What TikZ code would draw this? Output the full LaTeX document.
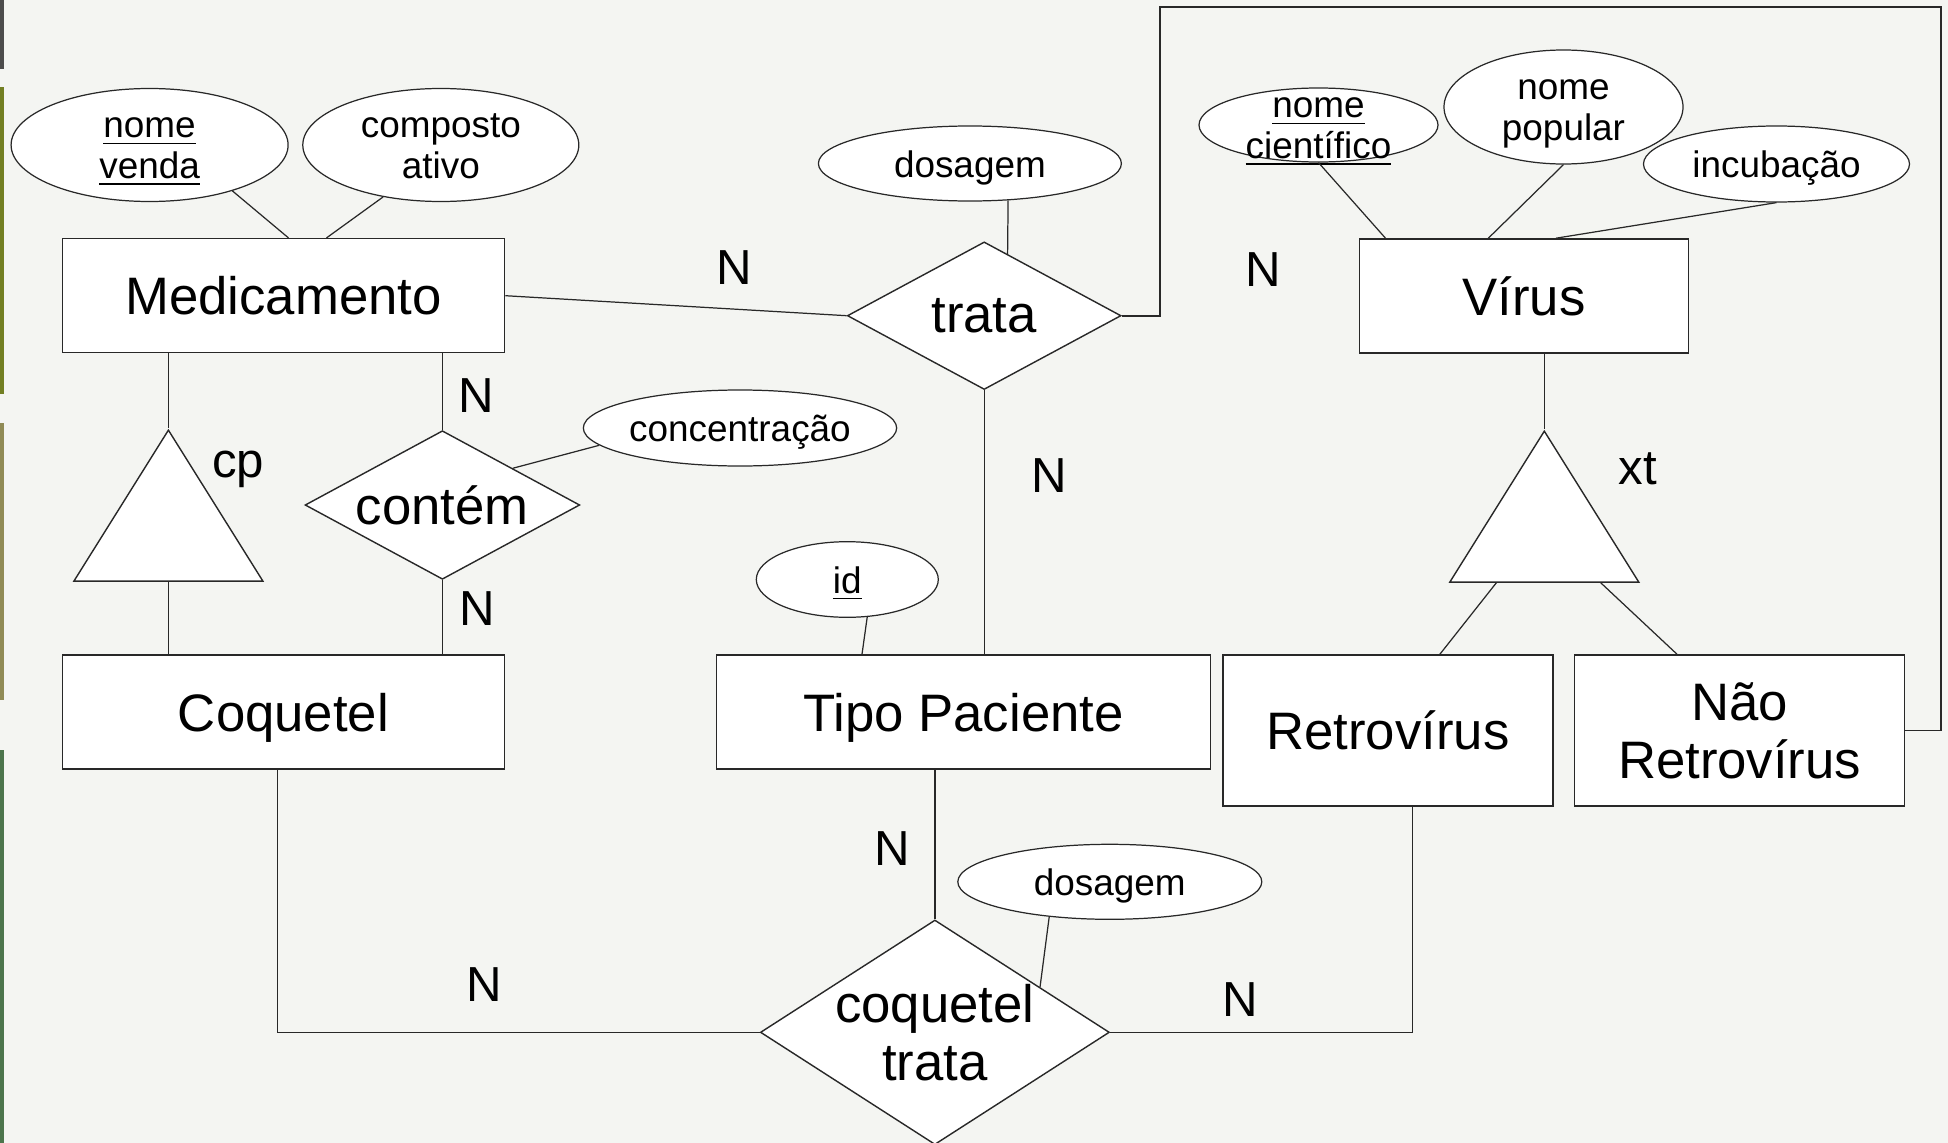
\documentclass[tikz,border=0pt]{standalone}
\usepackage{fontspec}
\setmainfont{Liberation Sans}
\usetikzlibrary{shapes.geometric,positioning,calc}

\definecolor{fundo}{RGB}{244,245,242}
\definecolor{traco}{RGB}{40,40,40}
\tikzset{
  ent/.style={rectangle, draw=traco, line width=0.45pt, fill=white, inner sep=0pt, text depth=0pt, align=center, font=\fontsize{15}{16.5}\selectfont},
  rel/.style={diamond, aspect=1.85, draw=traco, line width=0.4pt, fill=white, inner sep=0pt, inner xsep=-2mm, align=center, font=\fontsize{15}{16.5}\selectfont},
  attr/.style={ellipse, draw=traco, line width=0.35pt, fill=white, inner sep=0pt, inner ysep=-1.5mm, text height=7.7pt, text depth=0pt, align=center, font=\fontsize{10.5}{11.6}\selectfont},
  attr two/.style={attr, text height=19.2pt},
  isa/.style={isosceles triangle, isosceles triangle stretches, shape border rotate=90, anchor=apex, draw=traco, line width=0.4pt, fill=white, inner sep=0pt, minimum width=1.89cm, minimum height=1.51cm},
  card/.style={font=\fontsize{14}{16}\selectfont},
  link/.style={draw=traco, line width=0.35pt}
}

\begin{document}
\begin{tikzpicture}[on grid]
\useasboundingbox (0,0) rectangle (19.48,-11.43);
\fill[fundo] (0,0) rectangle (19.48,-11.43);
\fill[black!70] (0,0) rectangle (0.043,-0.69);
\fill[olive!75!green!80!black] (0,-0.87) rectangle (0.043,-3.94);
\fill[gray!60!olive] (0,-4.23) rectangle (0.043,-7.0);
\fill[black!60!green!40!gray] (0,-7.5) rectangle (0.043,-11.43);

\node[ent, minimum width=4.42cm, minimum height=1.14cm] (e_med) at (2.835,-2.957) {Medicamento};
\node[ent, minimum width=4.42cm, minimum height=1.14cm] (e_coq) [below=4.163cm of e_med] {Coquetel};
\node[ent, minimum width=4.94cm, minimum height=1.14cm] (e_tipo) [right=6.80cm of e_coq] {Tipo Paciente};
\node[ent, minimum width=3.29cm, minimum height=1.14cm] (e_virus) at (15.24,-2.96) {Vírus};
\node[ent, minimum width=3.30cm, minimum height=1.51cm] (e_retro) at (13.879,-7.305) {Retrovírus};
\node[ent, minimum width=3.30cm, minimum height=1.51cm] (e_nret) [right=3.517cm of e_retro] {Não\\Retrovírus};

\node[rel, minimum width=2.737cm, minimum height=1.476cm] (r_trata) at (9.842,-3.157) {trata};
\node[rel, minimum width=2.747cm, minimum height=1.486cm] (r_contem) at (4.424,-5.05) {contém};
\node[rel, aspect=1.55, minimum width=3.49cm, minimum height=2.246cm] (r_ctrata) at (9.349,-10.323) {coquetel\\trata};

\node[isa] (t_cp) at (1.684,-4.283) {};
\node[isa] (t_xt) at (15.443,-4.293) {};

\node[attr two, minimum width=2.77cm, minimum height=1.13cm] (a_nv) at (1.496,-1.45) {\underline{nome}\\\underline{venda}};
\node[attr two, minimum width=2.76cm, minimum height=1.13cm] (a_ca) [right=2.912cm of a_nv] {composto\\ativo};
\node[attr, minimum width=3.03cm, minimum height=0.75cm] (a_dos1) at (9.699,-1.635) {dosagem};
\node[attr two, minimum width=2.39cm, minimum height=0.74cm] (a_ncient) at (13.185,-1.25) {\underline{nome}\\\underline{científico}};
\node[attr two, minimum width=2.39cm, minimum height=1.14cm] (a_npop) at (15.635,-1.07) {nome\\popular};
\node[attr, minimum width=2.66cm, minimum height=0.76cm] (a_incub) at (17.765,-1.64) {incubação};
\node[attr, minimum width=3.03cm, minimum height=0.76cm] (a_conc) at (7.40,-4.28) {concentração};
\node[attr, minimum width=1.82cm, minimum height=0.756cm] (a_id) at (8.473,-5.795) {\underline{id}};
\node[attr, minimum width=3.04cm, minimum height=0.75cm] (a_dos2) at (11.098,-8.818) {dosagem};

\node[card] (n_1) at (7.342,-2.671) {N};
\node[card] (n_2) at (12.628,-2.696) {N};
\node[card] (n_3) at (4.766,-3.96) {N};
\node[card] (n_4) at (4.77,-6.083) {N};
\node[card] (n_5) at (10.49,-4.758) {N};
\node[card] (n_6) at (8.92,-8.485) {N};
\node[card] (n_7) at (4.84,-9.842) {N};
\node[card] (n_8) at (12.404,-9.992) {N};
\node[card] (l_cp) at (2.38,-4.69) {cp};
\node[card] (l_xt) at (16.38,-4.69) {xt};

\coordinate (canto) at (19.41,-0.073);

\draw[link] (a_nv.-29) -- ([xshift=0.05cm]e_med.north);
\draw[link] (a_ca.-138) -- ([xshift=0.43cm]e_med.north);
\draw[link] (e_med.east) -- (r_trata.west);
\draw[link] (a_dos1.-44) -- ($(r_trata.north)!0.17!(r_trata.east)$);
\draw[link, line width=0.55pt] (r_trata.east) -- ++(0.38,0) |- (canto) |- (e_nret.east);
\draw[link] (r_trata.south) -- (r_trata.south |- e_tipo.north);
\draw[link] (t_cp.apex |- e_med.south) -- (t_cp.apex);
\draw[link] (t_cp.apex |- t_cp.left corner) -- (t_cp.apex |- e_coq.north);
\draw[link] (r_contem.north |- e_med.south) -- (r_contem.north);
\draw[link] (r_contem.south) -- (r_contem.south |- e_coq.north);
\draw[link] (a_conc.-173) -- ($(r_contem.north)!0.51!(r_contem.east)$);
\draw[link] (a_id.-62) -- ([xshift=-1.015cm]e_tipo.north);
\draw[link] (r_ctrata.north |- e_tipo.south) -- (r_ctrata.north);
\draw[link] ([xshift=-0.06cm]e_coq.south) |- (r_ctrata.west);
\draw[link] (r_ctrata.east) -| ([xshift=0.245cm]e_retro.south);
\draw[link] (a_dos2.-150) -- ($(r_ctrata.north)!0.6!(r_ctrata.east)$);
\draw[link] (t_xt.apex |- e_virus.south) -- (t_xt.apex);
\draw[link] ($(t_xt.apex |- t_xt.left corner)+(-0.48,0)$) -- ([xshift=0.52cm]e_retro.north);
\draw[link] ($(t_xt.apex |- t_xt.left corner)+(0.565,0)$) -- ([xshift=-0.626cm]e_nret.north);
\draw[link] (a_ncient.south) -- ([xshift=-1.385cm]e_virus.north);
\draw[link] (a_npop.south) -- ([xshift=-0.357cm]e_virus.north);
\draw[link] (a_incub.south) -- ([xshift=0.319cm]e_virus.north);
\end{tikzpicture}
\end{document}
